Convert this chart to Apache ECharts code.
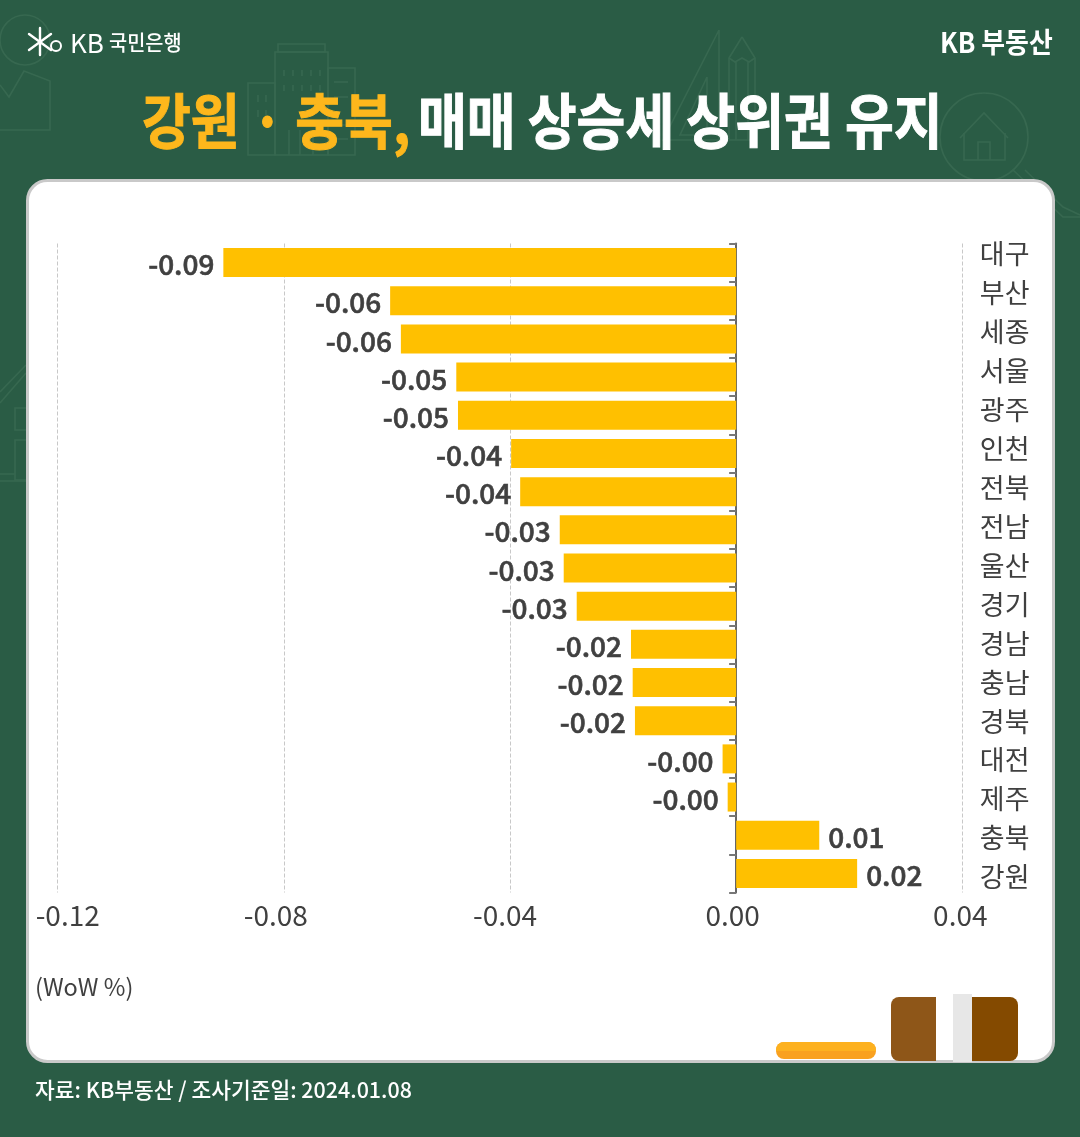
<!DOCTYPE html>
<html><head><meta charset="utf-8">
<style>html,body{margin:0;padding:0;background:#2A5C45}#c{width:1080px;height:1137px}</style>
<script src="https://cdn.jsdelivr.net/npm/echarts@6/dist/echarts.min.js"></script>
</head><body><div id="c"></div>
<script>
const categories = ['대구','부산','세종','서울','광주','인천','전북','전남','울산','경기','경남','충남','경북','대전','제주','충북','강원'];
const values = [-0.0907,-0.0612,-0.0593,-0.0495,-0.0492,-0.0398,-0.0382,-0.0312,-0.0305,-0.0282,-0.0186,-0.0183,-0.0179,-0.0024,-0.0015,0.0147,0.0214];
const xTickLabels = ['-0.12','-0.08','-0.04','0.00','0.04'];
const titleGold = '강원 · 충북,';
const titleWhite = '매매 상승세 상위권 유지';
const sourceText = '자료: KB부동산 / 조사기준일: 2024.01.08';
const unitText = '(WoW %)';

const FF = '"Noto Sans CJK KR","Noto Sans",sans-serif';
const INK = '#404040', DECO = '#376850';
const chart = echarts.init(document.getElementById('c'), null, {renderer:'canvas'});

const line = (pts, w=1.6) => ({type:'polyline', z:-20, shape:{points:pts}, style:{stroke:DECO, lineWidth:w, fill:null}});
const rect = (x,y,w,h) => ({type:'rect', z:-20, shape:{x,y,width:w,height:h}, style:{stroke:DECO, lineWidth:1.6, fill:null}});
const circ = (cx,cy,r) => ({type:'circle', z:-20, shape:{cx,cy,r}, style:{stroke:DECO, lineWidth:1.6, fill:null}});
const txt = (text,x,y,font,fill,extra={},bw=0) => Object.assign({type:'text', z:5, x, y, style:{text,font,fill,verticalAlign:'middle',align:'left',stroke:bw?fill:null,lineWidth:bw}}, extra);
const solid = (x,y,w,h,r,fill) => ({type:'rect', z:5, shape:{x,y,width:w,height:h,r}, style:{fill}});

const decor = [
  circ(25,40,25),
  line([[0,85],[9,97],[24,71],[50,81],[50,130],[0,130]]),
  rect(248,83,27,72), rect(275,52,53,103), rect(278,44,47,8), rect(328,68,27,87),
  line([[284,70],[284,76]]),line([[293,70],[293,76]]),line([[302,70],[302,76]]),line([[311,70],[311,76]]),line([[320,70],[320,76]]),
  line([[284,85],[284,91]]),line([[293,85],[293,91]]),line([[302,85],[302,91]]),line([[311,85],[311,91]]),line([[320,85],[320,91]]),
  line([[258,95],[258,102]]),line([[266,95],[266,102]]),line([[258,110],[258,117]]),line([[266,110],[266,117]]),
  line([[289,130],[289,155]]),line([[300,130],[300,155]]),line([[313,130],[313,155]]),
  line([[334,82],[348,82]]),line([[334,97],[348,97]]),line([[334,125],[348,125]]),line([[334,139],[348,139]]),
  line([[719,30],[719,140],[663,140],[719,30]]),
  line([[707,77],[707,135],[680,135],[707,77]]),
  line([[742,37],[755,58],[755,140],[729,140],[729,58],[742,37]]),
  line([[729,58],[735,62],[742,58],[749,62],[755,58]]),
  line([[736,62],[736,140]]),line([[748,62],[748,140]]),
  circ(984,137,44),
  line([[960,138],[984,113],[1008,138]]),
  line([[964,133],[964,160],[1005,160],[1005,133]]),
  line([[978,160],[978,142],[990,142],[990,160]]),
  line([[1013,170],[1063,217],[1080,217]]),
  line([[1025,170],[1063,207],[1080,215]]),
  line([[0,403],[26,373]]), line([[0,392],[26,365]]),
  rect(15,408,15,22), rect(15,440,15,40), line([[0,474],[15,474]]), line([[0,481],[26,481]]),
  {type:'rect', z:-10, shape:{x:27.5,y:180.5,width:1026,height:881,r:20}, style:{fill:'#fff',stroke:'#C9C9C9',lineWidth:3}},
  // logo star
  ...[[40,28,40,55],[29,34,51,50],[29,50,51,34]].map(p=>({type:'line',z:5,shape:{x1:p[0],y1:p[1],x2:p[2],y2:p[3]},style:{stroke:'#fff',lineWidth:2.4,lineCap:'round'}})),
  {type:'circle',z:5,shape:{cx:56,cy:46,r:5},style:{stroke:'#fff',lineWidth:2,fill:null}},
  txt('KB',70,43,'400 26px '+FF,'#fff'),
  txt('국민은행',109,42,'500 21px '+FF,'#fff',{scaleX:.94}),
  txt('KB 부동산',940,42,'700 28px '+FF,'#fff',{scaleX:.925}),
  txt(titleGold,142,121,'700 60px '+FF,'#FDB71C',{scaleX:.885},1),
  txt(titleWhite,418,121,'700 60px '+FF,'#fff',{scaleX:.885},1),
  txt(unitText,35,987,'400 24px '+FF,INK,{scaleX:.98}),
  txt(sourceText,35,1090,'500 22px '+FF,'#fff',{scaleX:.975}),
  solid(776,1042,100,17,8,'#F9A11F'),
  solid(776,1042,100,9,[8,8,0,0],'#FDB11F'),
  solid(891,997,45,64,[8,0,0,8],'#8E5618'),
  solid(972,997,46,64,[0,8,8,0],'#844A00'),
  solid(953,994,19,68,0,'#E7E7E7')
];

const tickShift = [20,-16,-10,-7,-4];
const tickRich = {};
xTickLabels.forEach((t,i)=>{
  tickRich['t'+i] = {fontFamily:FF,fontSize:28,color:INK,
    padding: tickShift[i]>0 ? [0,0,0,tickShift[i]] : [0,-tickShift[i],0,0]};
});

chart.setOption({
  backgroundColor:'#2A5C45',
  animation:false,
  graphic:{elements:decor},
  grid:[
    {left:57.7,width:904.6,top:243.5,height:649},
    {left:57.7,width:904.6,top:234.5,height:662}
  ],
  xAxis:[
    {type:'value',gridIndex:0,min:-0.12,max:0.04,interval:0.04,
      axisLine:{show:false},axisTick:{show:false},
      splitLine:{show:true,lineStyle:{type:'dashed',color:'#C8C8C8',width:1}},
      axisLabel:{margin:9,showMinLabel:true,showMaxLabel:true,
        formatter:(v,i)=>`{t${i}|${xTickLabels[i]}}`,rich:tickRich}},
    {type:'value',gridIndex:1,show:false,min:0,max:1}
  ],
  yAxis:[
    {type:'category',gridIndex:0,inverse:true,data:categories,position:'left',
      axisLine:{show:true,onZero:true,lineStyle:{color:'#666',width:2}},
      axisTick:{show:true,length:7,lineStyle:{color:'#777',width:2}},
      axisLabel:{show:false},splitLine:{show:false}},
    {type:'category',gridIndex:1,inverse:true,data:categories,position:'right',
      axisLine:{show:false},axisTick:{show:false},splitLine:{show:false},
      axisLabel:{margin:17.5,align:'left',fontFamily:FF,fontSize:27,color:INK,interval:0}}
  ],
  series:[{
    type:'bar',xAxisIndex:0,yAxisIndex:0,barWidth:29,
    itemStyle:{color:'#FFC000'},
    data:values.map(v=>({value:v,label:{position:v<0?'left':'right'}})),
    label:{show:true,distance:9,offset:[0,2],fontFamily:FF,fontSize:28,fontWeight:500,color:INK,
      textBorderColor:INK,textBorderWidth:0.6,
      formatter:p=>p.value.toFixed(2)}
  }]
});
</script></body></html>
